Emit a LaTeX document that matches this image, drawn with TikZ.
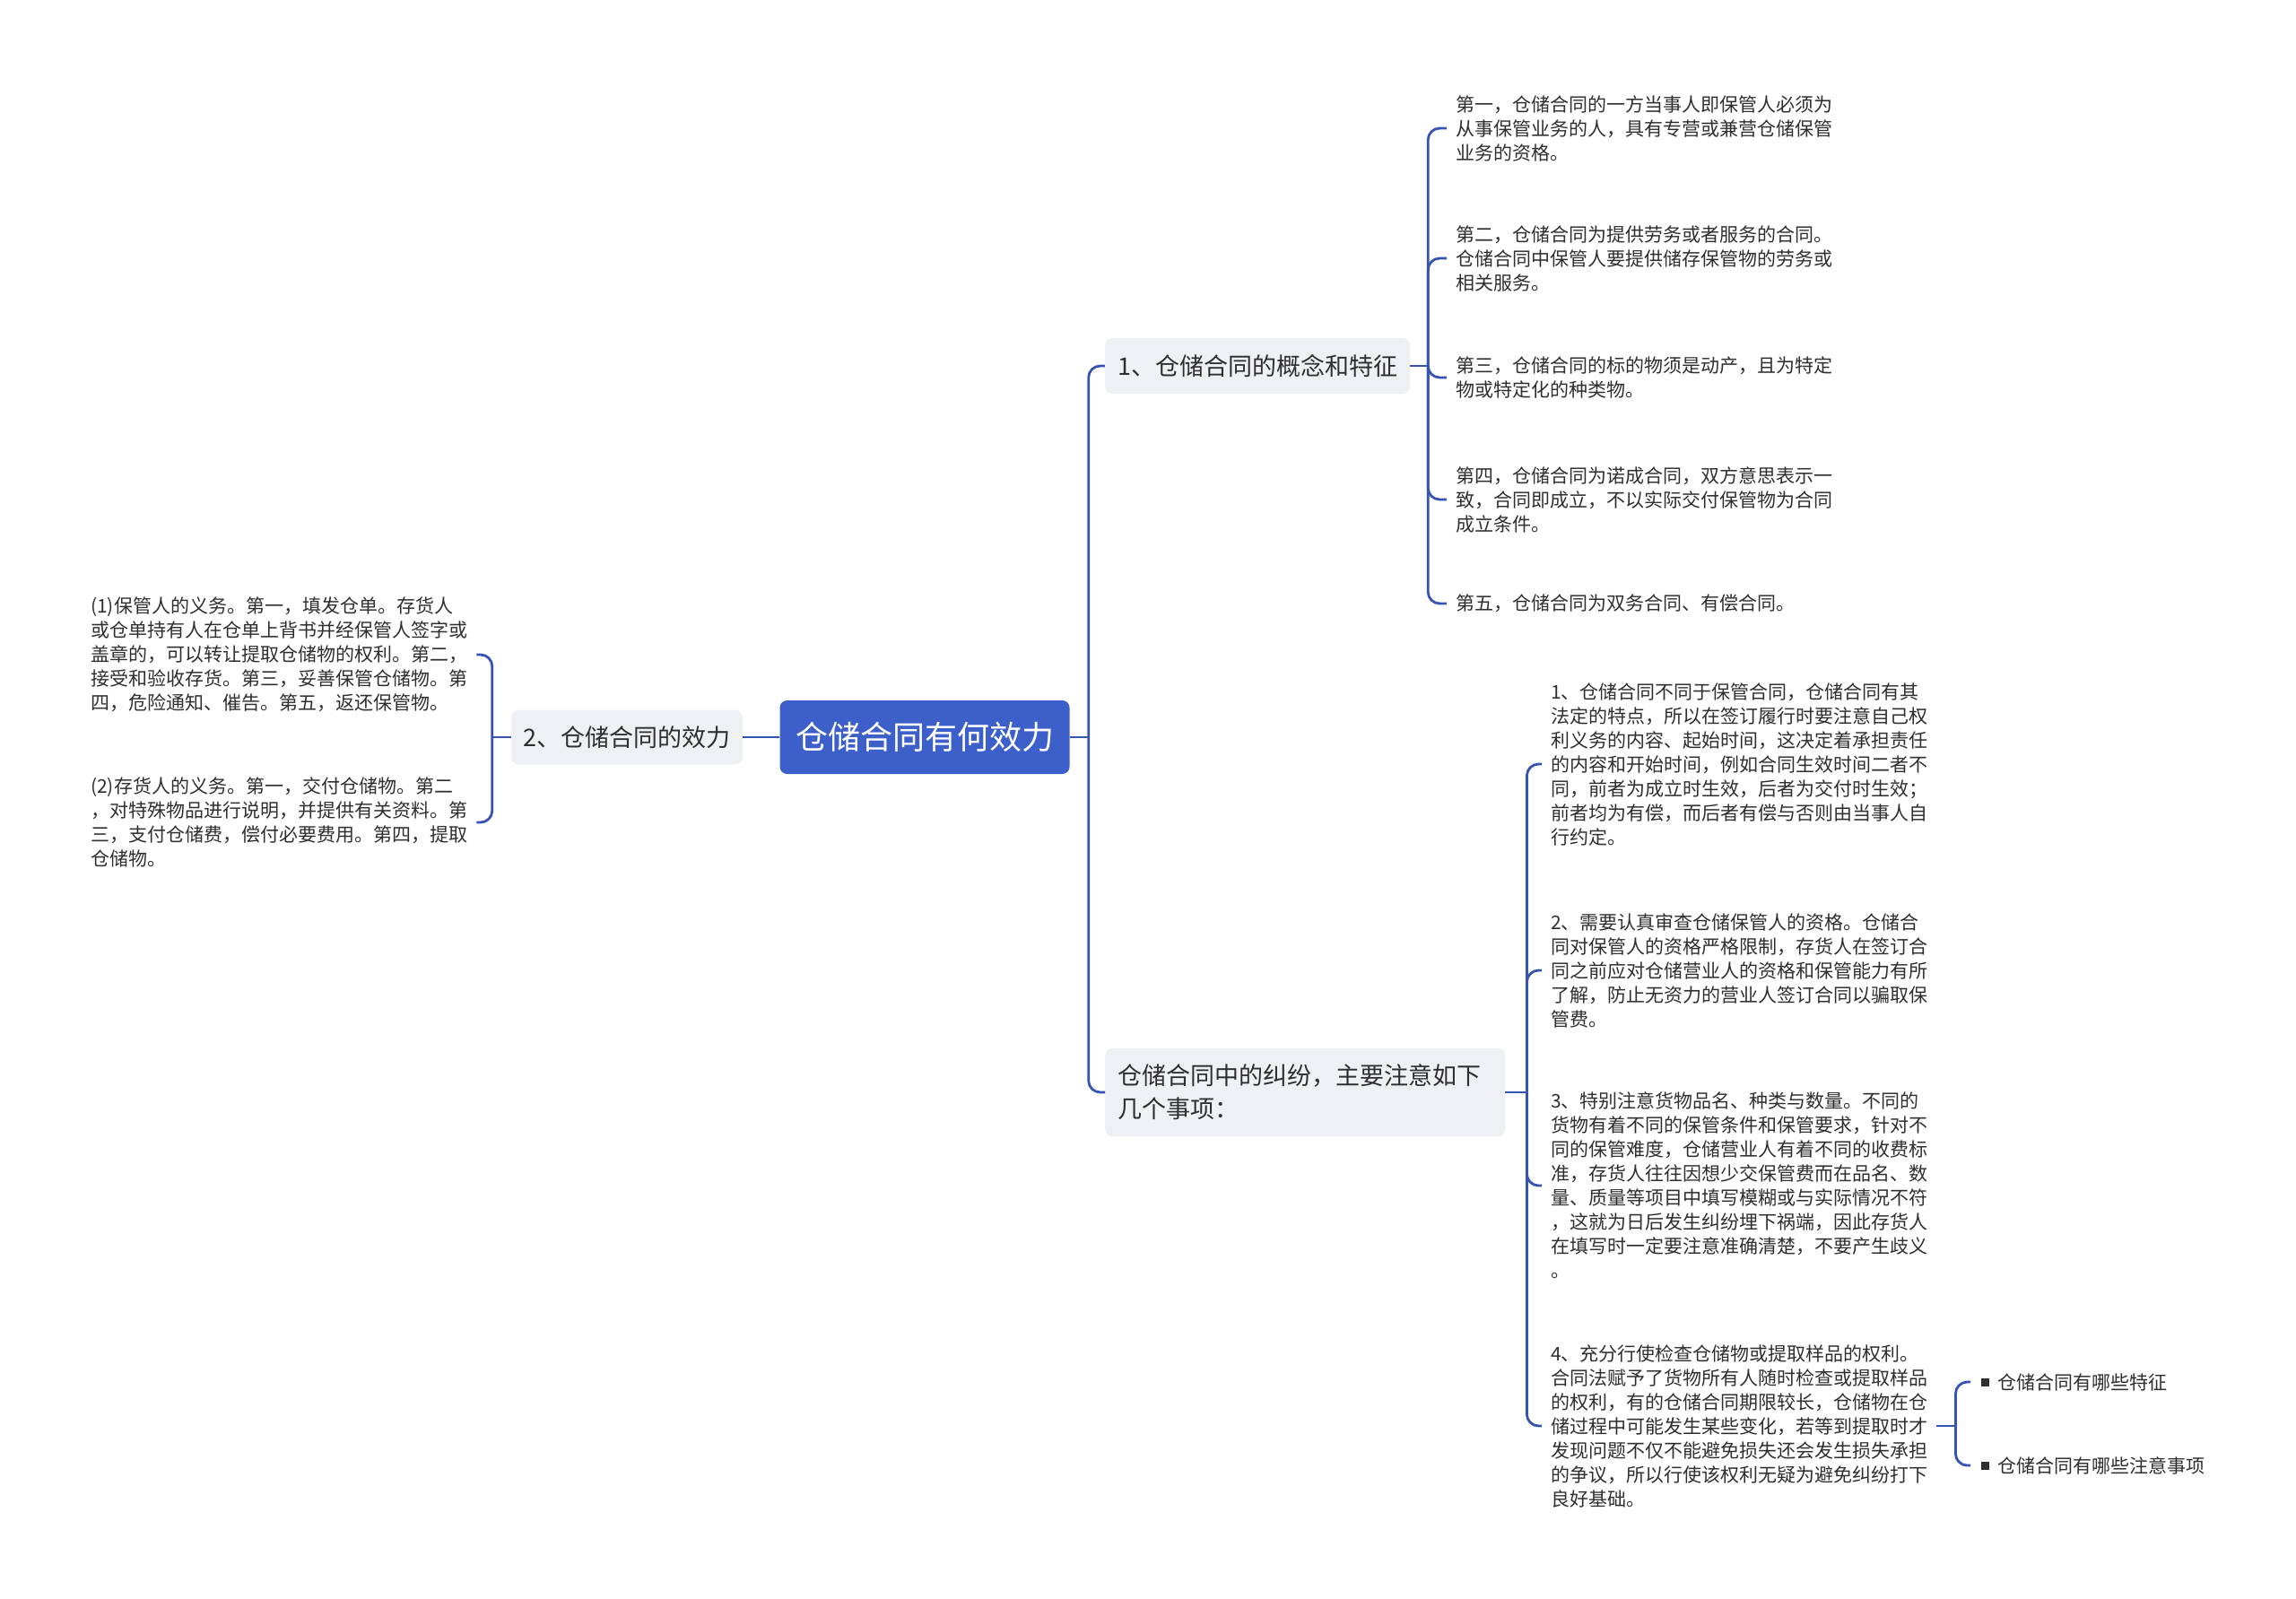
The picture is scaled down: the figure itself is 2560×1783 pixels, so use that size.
\documentclass[tikz,border=0pt]{standalone}
\usepackage{fontspec}
\setmainfont{Noto Sans CJK SC}
\usetikzlibrary{positioning}
\definecolor{rootblue}{HTML}{3D5FCA}
\definecolor{linkblue}{HTML}{3553B3}
\definecolor{subgray}{HTML}{EEF0F4}
\definecolor{txtgray}{HTML}{2E2E2E}
\tikzset{
  rootnode/.style={fill=rootblue, text=white, rounded corners=8pt, minimum width=323pt, minimum height=82pt, font=\fontsize{36}{40}\selectfont},
  subnode/.style={fill=subgray, text=txtgray, rounded corners=8pt, font=\fontsize{27}{37}\selectfont, align=left},
  leaf/.style={text=txtgray, font=\fontsize{21}{27}\selectfont, align=left, inner xsep=10pt, inner ysep=0pt, anchor=west},
  link/.style={draw=linkblue, line width=2.8pt, rounded corners=13pt},
}
\newcommand{\sqbullet}{\raisebox{3.5pt}{\rule{9pt}{9pt}}\hspace{9pt}}
\begin{document}
\begin{tikzpicture}[x=1pt,y=-1pt]
    \useasboundingbox (0,0) rectangle (2560,1783);
    % main topic and first level
    \node[rootnode] (root) at (1031,822) {仓储合同有何效力};
    \node[subnode, minimum width=340pt, minimum height=62pt] (feat) at (1402,408) {1、仓储合同的概念和特征};
    \node[subnode, minimum width=258pt, minimum height=61pt] (effect) at (699,822) {2、仓储合同的效力};
    \node[subnode, anchor=west, text width=418pt, inner xsep=14pt, minimum height=98pt] (issue) at (1232,1218) {仓储合同中的纠纷，主要注意如下\\几个事项：};

    % features
    \node[leaf] (f1) at (1613,143) {第一，仓储合同的一方当事人即保管人必须为\\从事保管业务的人，具有专营或兼营仓储保管\\业务的资格。};
    \node[leaf] (f2) at (1613,288) {第二，仓储合同为提供劳务或者服务的合同。\\仓储合同中保管人要提供储存保管物的劳务或\\相关服务。};
    \node[leaf] (f3) at (1613,421) {第三，仓储合同的标的物须是动产，且为特定\\物或特定化的种类物。};
    \node[leaf] (f4) at (1613,557) {第四，仓储合同为诺成合同，双方意思表示一\\致，合同即成立，不以实际交付保管物为合同\\成立条件。};
    \node[leaf] (f5) at (1613,673) {第五，仓储合同为双务合同、有偿合同。};

    % duties
    \node[leaf] (d1) at (91,730) {(1)保管人的义务。第一，填发仓单。存货人\\或仓单持有人在仓单上背书并经保管人签字或\\盖章的，可以转让提取仓储物的权利。第二，\\接受和验收存货。第三，妥善保管仓储物。第\\四，危险通知、催告。第五，返还保管物。};
    \node[leaf] (d2) at (91,917) {(2)存货人的义务。第一，交付仓储物。第二\\，对特殊物品进行说明，并提供有关资料。第\\三，支付仓储费，偿付必要费用。第四，提取\\仓储物。};

    % disputes
    \node[leaf] (i1) at (1719,852) {1、仓储合同不同于保管合同，仓储合同有其\\法定的特点，所以在签订履行时要注意自己权\\利义务的内容、起始时间，这决定着承担责任\\的内容和开始时间，例如合同生效时间二者不\\同，前者为成立时生效，后者为交付时生效；\\前者均为有偿，而后者有偿与否则由当事人自\\行约定。};
    \node[leaf] (i2) at (1719,1082) {2、需要认真审查仓储保管人的资格。仓储合\\同对保管人的资格严格限制，存货人在签订合\\同之前应对仓储营业人的资格和保管能力有所\\了解，防止无资力的营业人签订合同以骗取保\\管费。};
    \node[leaf] (i3) at (1719,1322) {3、特别注意货物品名、种类与数量。不同的\\货物有着不同的保管条件和保管要求，针对不\\同的保管难度，仓储营业人有着不同的收费标\\准，存货人往往因想少交保管费而在品名、数\\量、质量等项目中填写模糊或与实际情况不符\\，这就为日后发生纠纷埋下祸端，因此存货人\\在填写时一定要注意准确清楚，不要产生歧义\\。};
    \node[leaf] (i4) at (1719,1590) {4、充分行使检查仓储物或提取样品的权利。\\合同法赋予了货物所有人随时检查或提取样品\\的权利，有的仓储合同期限较长，仓储物在仓\\储过程中可能发生某些变化，若等到提取时才\\发现问题不仅不能避免损失还会发生损失承担\\的争议，所以行使该权利无疑为避免纠纷打下\\良好基础。};
    \node[leaf, inner xsep=12pt] (q1) at (2197,1541) {\sqbullet 仓储合同有哪些特征};
    \node[leaf, inner xsep=12pt] (q2) at (2197,1634) {\sqbullet 仓储合同有哪些注意事项};

    % connectors
    \coordinate (hubR) at ([xshift=21pt]root.east);
    \draw[link] (root.east) -- (hubR);
    \draw[link] (hubR) |- (feat.west);
    \draw[link] (hubR) |- (issue.west);
    \draw[link] (root.west) -- (effect.east);

    \coordinate (hubL) at ([xshift=-21pt]effect.west);
    \draw[link] (effect.west) -- (hubL);
    \foreach \d in {d1,d2}
        \draw[link] (hubL) |- (\d.east);

    \coordinate (hubF) at ([xshift=20pt]feat.east);
    \draw[link] (feat.east) -- (hubF);
    \foreach \f in {f1,f2,f3,f4,f5}
        \draw[link] (hubF) |- (\f.west);

    \coordinate (hubI) at ([xshift=24pt]issue.east);
    \draw[link] (issue.east) -- (hubI);
    \foreach \i in {i1,i2,i3,i4}
        \draw[link] (hubI) |- (\i.west);

    \coordinate (hubQ) at ([xshift=21pt]i4.east);
    \draw[link] (i4.east) -- (hubQ);
    \foreach \q in {q1,q2}
        \draw[link] (hubQ) |- (\q.west);
\end{tikzpicture}
\end{document}
